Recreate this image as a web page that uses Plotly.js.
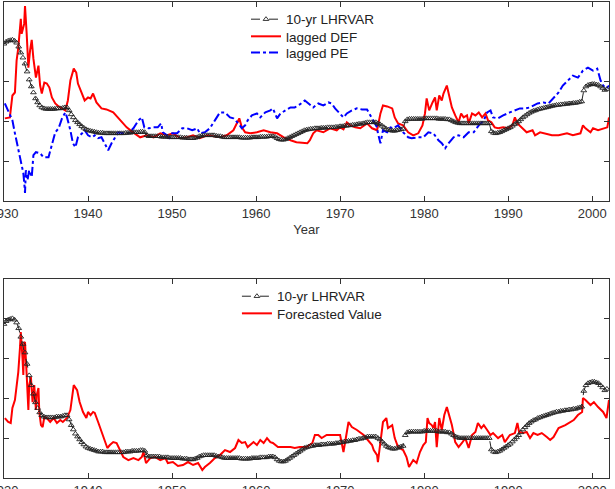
<!DOCTYPE html>
<html><head><meta charset="utf-8">
<script src="https://cdn.plot.ly/plotly-3.0.1.min.js"></script>
<style>html,body{margin:0;padding:0;background:#fff;} #chart{width:615px;height:489px;}</style>
</head><body><div id="chart"></div>
<script>
// 10-yr LHRVAR, quarterly from 1930.00
const lhrvarStartYear = 1930;
const lhrvarStepYears = 0.25;
const lhrvar = [
  1.475, 1.5, 1.513, 1.519,
  1.525, 1.513, 1.488, 1.438,
  1.363, 1.3, 1.225, 1.125,
  1.025, 0.938, 0.863, 0.788,
  0.738, 0.7, 0.675, 0.663,
  0.656, 0.656, 0.656, 0.656,
  0.656, 0.663, 0.663, 0.663,
  0.669, 0.675, 0.675, 0.638,
  0.588, 0.55, 0.513, 0.488,
  0.463, 0.438, 0.419, 0.4,
  0.388, 0.381, 0.375, 0.369,
  0.363, 0.356, 0.356, 0.356,
  0.35, 0.35, 0.35, 0.35,
  0.35, 0.35, 0.35, 0.35,
  0.35, 0.35, 0.356, 0.356,
  0.356, 0.363, 0.363, 0.363,
  0.363, 0.369, 0.369, 0.363,
  0.325, 0.313, 0.313, 0.313,
  0.313, 0.313, 0.313, 0.306,
  0.306, 0.306, 0.306, 0.3,
  0.3, 0.3, 0.3, 0.3,
  0.3, 0.294, 0.294, 0.294,
  0.288, 0.288, 0.288, 0.294,
  0.3, 0.313, 0.319, 0.325,
  0.325, 0.325, 0.325, 0.325,
  0.325, 0.319, 0.313, 0.313,
  0.306, 0.3, 0.3, 0.3,
  0.3, 0.3, 0.3, 0.3,
  0.3, 0.294, 0.294, 0.294,
  0.294, 0.294, 0.3, 0.3,
  0.3, 0.3, 0.306, 0.306,
  0.306, 0.306, 0.313, 0.313,
  0.313, 0.306, 0.288, 0.275,
  0.269, 0.269, 0.275, 0.288,
  0.3, 0.313, 0.325, 0.338,
  0.35, 0.363, 0.375, 0.388,
  0.394, 0.4, 0.406, 0.406,
  0.413, 0.413, 0.413, 0.419,
  0.419, 0.419, 0.425, 0.425,
  0.425, 0.425, 0.431, 0.431,
  0.438, 0.438, 0.444, 0.444,
  0.45, 0.45, 0.456, 0.456,
  0.463, 0.469, 0.469, 0.475,
  0.481, 0.488, 0.488, 0.488,
  0.488, 0.488, 0.475, 0.463,
  0.444, 0.425, 0.406, 0.394,
  0.388, 0.381, 0.381, 0.388,
  0.394, 0.4, 0.406, 0.5,
  0.525, 0.531, 0.531, 0.531,
  0.531, 0.531, 0.531, 0.531,
  0.538, 0.538, 0.538, 0.538,
  0.538, 0.538, 0.538, 0.531,
  0.531, 0.531, 0.531, 0.525,
  0.525, 0.513, 0.5, 0.488,
  0.481, 0.475, 0.475, 0.475,
  0.475, 0.475, 0.475, 0.475,
  0.475, 0.475, 0.475, 0.475,
  0.475, 0.475, 0.475, 0.475,
  0.375, 0.356, 0.35, 0.356,
  0.363, 0.375, 0.388, 0.4,
  0.413, 0.425, 0.444, 0.463,
  0.481, 0.5, 0.525, 0.55,
  0.569, 0.588, 0.606, 0.619,
  0.631, 0.638, 0.65, 0.656,
  0.663, 0.669, 0.675, 0.681,
  0.688, 0.694, 0.7, 0.706,
  0.706, 0.713, 0.713, 0.719,
  0.719, 0.725, 0.725, 0.731,
  0.731, 0.738, 0.744, 0.75,
  0.888, 0.938, 0.956, 0.963,
  0.969, 0.969, 0.963, 0.956,
  0.938, 0.919, 0.894, 0.906
];

// lagged DEF (top panel)
const defYears = [1930.1,1930.7,1931.0,1931.3,1931.5,1931.7,1932.0,1932.1,1932.4,1932.5,1932.7,1932.9,1933.1,1933.3,1933.5,1933.8,1934.1,1934.3,1934.5,1934.8,1935.1,1935.4,1935.7,1936.1,1936.5,1936.9,1937.3,1937.6,1937.9,1938.3,1938.6,1938.8,1939.3,1939.6,1940.0,1940.3,1940.6,1941.0,1941.6,1942.2,1943.0,1943.4,1944.0,1944.6,1945.2,1945.8,1946.2,1947.0,1947.8,1948.6,1949.4,1950.1,1951.0,1951.8,1952.5,1953.3,1954.2,1955.7,1956.5,1957.3,1957.7,1958.0,1958.3,1958.7,1959.3,1960.1,1960.9,1961.7,1962.5,1963.3,1964.1,1964.8,1966.1,1966.4,1966.8,1967.2,1968.0,1968.8,1969.6,1970.0,1970.4,1970.8,1971.2,1971.8,1972.4,1973.2,1973.8,1974.4,1974.8,1975.1,1975.6,1976.2,1976.5,1976.9,1977.5,1978.1,1978.7,1979.3,1979.8,1980.1,1980.3,1980.6,1981.0,1981.3,1981.5,1981.8,1982.1,1982.3,1982.7,1983.0,1983.3,1983.7,1984.1,1984.4,1984.7,1985.1,1985.3,1985.7,1986.1,1986.5,1986.9,1987.3,1987.6,1988.0,1988.4,1988.8,1989.4,1990.0,1990.5,1990.8,1991.1,1991.7,1992.2,1992.9,1993.2,1993.8,1994.4,1995.2,1996.0,1997.0,1997.7,1998.6,1998.9,1999.2,1999.8,2000.1,2000.7,2001.3,2001.8,2002.0];
const defValues = [0.538,0.55,0.825,0.863,1.263,1.425,1.788,1.6,1.725,1.95,1.6,1.175,1.388,1.525,1.288,1.05,1.2,0.95,0.85,0.988,0.975,0.925,0.8,0.725,0.688,0.663,0.638,0.763,1.013,1.163,1.113,0.975,0.825,0.763,0.8,0.788,0.85,0.738,0.663,0.65,0.613,0.563,0.488,0.425,0.375,0.325,0.3,0.325,0.3,0.35,0.325,0.35,0.288,0.3,0.325,0.288,0.325,0.3,0.325,0.388,0.475,0.538,0.425,0.363,0.35,0.363,0.388,0.363,0.35,0.3,0.263,0.238,0.225,0.263,0.35,0.388,0.363,0.413,0.388,0.425,0.4,0.488,0.45,0.425,0.413,0.475,0.413,0.388,0.6,0.7,0.688,0.663,0.55,0.475,0.45,0.363,0.325,0.35,0.45,0.6,0.788,0.638,0.738,0.8,0.638,0.825,0.763,0.85,0.95,0.8,0.675,0.575,0.488,0.6,0.55,0.575,0.475,0.6,0.575,0.613,0.55,0.6,0.513,0.488,0.425,0.413,0.425,0.413,0.45,0.55,0.475,0.413,0.363,0.388,0.325,0.363,0.35,0.325,0.325,0.35,0.325,0.35,0.45,0.413,0.363,0.413,0.388,0.413,0.425,0.55];

// lagged PE (top panel)
const peYears = [1930.1,1930.5,1931.0,1931.3,1931.7,1932.1,1932.3,1932.4,1932.5,1932.6,1932.8,1933.0,1933.3,1933.5,1933.8,1934.3,1934.7,1935.3,1935.7,1936.1,1936.5,1936.9,1937.3,1937.5,1937.9,1938.2,1938.5,1938.8,1939.3,1939.6,1940.0,1940.5,1940.8,1941.2,1941.6,1942.0,1942.4,1942.8,1943.2,1943.6,1944.2,1944.8,1945.4,1946.0,1946.4,1946.7,1947.2,1947.8,1948.3,1948.7,1948.9,1949.4,1949.5,1950.0,1950.6,1951.2,1951.8,1952.4,1953.0,1953.3,1953.9,1954.5,1955.1,1955.7,1956.3,1956.9,1957.3,1957.9,1958.3,1958.7,1959.0,1959.5,1960.1,1960.5,1961.1,1961.7,1962.0,1962.5,1962.9,1963.5,1964.1,1964.6,1965.2,1965.8,1966.2,1966.8,1967.4,1968.0,1968.6,1969.0,1969.4,1970.0,1970.4,1970.8,1971.4,1972.0,1972.6,1973.2,1973.6,1974.0,1974.4,1974.5,1974.8,1975.1,1975.6,1976.0,1976.3,1976.9,1977.5,1978.1,1978.5,1979.3,1979.9,1980.5,1981.1,1981.7,1982.1,1982.5,1982.9,1983.5,1984.1,1984.7,1985.3,1985.9,1986.5,1987.1,1987.5,1987.9,1988.2,1988.8,1989.4,1990.2,1990.8,1991.4,1992.0,1992.6,1993.5,1994.2,1994.8,1995.4,1996.0,1996.5,1997.1,1997.7,1998.3,1998.9,1999.5,2000.1,2000.6,2001.0,2001.3,2001.7,2002.0];
const peValues = [0.725,0.638,0.513,0.35,0.163,-0.025,-0.15,-0.263,-0.4,-0.113,-0.238,-0.113,-0.2,0.075,0.113,0.1,0.05,0.05,0.225,0.363,0.413,0.538,0.613,0.55,0.388,0.225,0.175,0.3,0.35,0.388,0.325,0.3,0.325,0.288,0.3,0.225,0.138,0.225,0.3,0.363,0.35,0.35,0.413,0.513,0.55,0.425,0.413,0.425,0.425,0.475,0.363,0.325,0.263,0.35,0.35,0.413,0.413,0.388,0.413,0.35,0.363,0.413,0.513,0.613,0.613,0.55,0.538,0.475,0.413,0.45,0.513,0.575,0.6,0.55,0.613,0.638,0.663,0.538,0.6,0.638,0.675,0.675,0.713,0.763,0.725,0.675,0.725,0.7,0.738,0.725,0.663,0.6,0.55,0.6,0.638,0.663,0.65,0.65,0.575,0.513,0.425,0.35,0.225,0.388,0.363,0.425,0.413,0.45,0.363,0.3,0.288,0.3,0.3,0.363,0.35,0.263,0.225,0.163,0.225,0.3,0.325,0.3,0.363,0.363,0.45,0.513,0.613,0.638,0.55,0.538,0.575,0.613,0.638,0.663,0.663,0.675,0.725,0.738,0.725,0.788,0.863,0.95,1.013,1.075,1.05,1.138,1.175,1.138,1.163,1.013,0.95,0.913,0.95];

// Forecasted Value (bottom panel)
const fcYears = [1930.1,1930.5,1930.8,1931.0,1931.3,1931.5,1931.7,1931.9,1932.0,1932.2,1932.3,1932.4,1932.5,1932.7,1932.9,1933.0,1933.2,1933.4,1933.6,1933.8,1933.9,1934.1,1934.2,1934.4,1934.6,1934.8,1935.1,1935.5,1935.9,1936.3,1936.7,1937.0,1937.5,1937.9,1938.1,1938.3,1938.7,1939.0,1939.4,1939.8,1940.0,1940.3,1940.6,1940.8,1941.2,1941.6,1942.0,1942.3,1942.6,1943.0,1943.4,1943.8,1944.2,1944.8,1945.4,1946.0,1946.4,1946.6,1946.9,1947.4,1948.0,1948.6,1949.2,1949.5,1950.1,1950.7,1951.3,1951.9,1952.5,1953.1,1953.6,1953.9,1954.5,1955.1,1955.7,1956.3,1956.9,1957.5,1957.9,1958.3,1958.7,1959.0,1959.7,1960.1,1960.5,1960.9,1961.3,1961.7,1962.0,1962.6,1963.3,1964.1,1964.6,1965.2,1966.0,1966.7,1967.0,1967.4,1967.8,1968.4,1969.2,1970.0,1970.4,1970.8,1971.0,1971.4,1972.0,1972.8,1973.3,1973.8,1974.0,1974.4,1974.5,1974.9,1975.1,1975.5,1975.7,1976.2,1976.5,1976.9,1977.5,1977.9,1978.2,1978.7,1979.1,1979.5,1979.9,1980.2,1980.4,1980.6,1980.9,1981.1,1981.3,1981.5,1981.8,1982.1,1982.4,1982.7,1983.0,1983.3,1983.7,1984.1,1984.5,1984.9,1985.3,1985.7,1986.1,1986.4,1986.8,1987.1,1987.5,1987.9,1988.2,1988.8,1989.3,1989.6,1990.2,1990.8,1991.1,1991.3,1991.8,1992.2,1992.6,1993.0,1993.5,1994.0,1994.6,1995.0,1995.4,1996.0,1996.8,1997.4,1997.8,1998.3,1998.8,1998.9,1999.2,1999.8,2000.2,2000.7,2001.3,2001.7,2002.0];
const fcValues = [0.651,0.616,0.607,0.739,0.809,0.94,1.054,1.265,1.405,1.177,1.028,1.309,1.318,1.028,0.721,0.94,1.011,0.791,0.94,0.721,0.853,0.914,0.704,0.589,0.572,0.66,0.651,0.616,0.651,0.607,0.633,0.616,0.651,0.721,0.853,0.94,0.896,0.791,0.704,0.651,0.704,0.677,0.704,0.695,0.616,0.528,0.44,0.388,0.414,0.44,0.432,0.37,0.309,0.282,0.3,0.282,0.309,0.353,0.256,0.3,0.309,0.282,0.3,0.256,0.265,0.23,0.239,0.265,0.239,0.256,0.195,0.221,0.256,0.3,0.326,0.37,0.353,0.388,0.458,0.432,0.44,0.396,0.44,0.414,0.458,0.432,0.475,0.44,0.432,0.396,0.396,0.396,0.388,0.396,0.396,0.432,0.502,0.502,0.475,0.502,0.502,0.502,0.353,0.528,0.616,0.572,0.546,0.502,0.458,0.414,0.37,0.326,0.265,0.528,0.616,0.651,0.563,0.589,0.475,0.396,0.37,0.309,0.221,0.282,0.256,0.353,0.414,0.44,0.651,0.607,0.589,0.563,0.616,0.396,0.651,0.546,0.677,0.747,0.677,0.589,0.44,0.396,0.432,0.475,0.388,0.502,0.528,0.607,0.563,0.589,0.546,0.502,0.519,0.475,0.502,0.44,0.502,0.519,0.607,0.528,0.519,0.528,0.475,0.519,0.502,0.519,0.484,0.458,0.484,0.563,0.589,0.616,0.633,0.677,0.704,0.826,0.809,0.765,0.791,0.747,0.704,0.651,0.809];

const xTickYears = [1930, 1940, 1950, 1960, 1970, 1980, 1990, 2000];
const nameLHRVAR = '10-yr LHRVAR';
const nameDEF = 'lagged DEF';
const namePE = 'lagged PE';
const nameFC = 'Forecasted Value';
const xTitle = 'Year';

const lhrvarYears = lhrvar.map((_, i) => lhrvarStartYear + i * lhrvarStepYears);

const lhrStyle = {
  mode: 'lines+markers',
  line: {color: '#222', width: 1, dash: 'dash'},
  marker: {symbol: 'triangle-up-open', size: 5, color: '#222', line: {width: 0.9, color: '#222'}}
};

const traces = [
  {x: defYears, y: defValues, name: nameDEF, type: 'scatter', mode: 'lines',
   line: {color: '#ff0000', width: 2}, xaxis: 'x', yaxis: 'y', legend: 'legend2'},
  {x: peYears, y: peValues, name: namePE, type: 'scatter', mode: 'lines',
   line: {color: '#0000ff', width: 2, dash: 'dashdot'}, xaxis: 'x', yaxis: 'y', legend: 'legend3'},
  Object.assign({x: lhrvarYears, y: lhrvar, name: nameLHRVAR, type: 'scatter',
   xaxis: 'x', yaxis: 'y', legend: 'legend'}, lhrStyle),
  {x: fcYears, y: fcValues, name: nameFC, type: 'scatter', mode: 'lines',
   line: {color: '#ff0000', width: 2}, xaxis: 'x2', yaxis: 'y2', legend: 'legend5'},
  Object.assign({x: lhrvarYears, y: lhrvar, name: nameLHRVAR, type: 'scatter',
   xaxis: 'x2', yaxis: 'y2', legend: 'legend4'}, lhrStyle)
];

const fontFam = 'Liberation Sans, Arial, sans-serif';
const axisCommon = {
  showline: true, linecolor: '#333', linewidth: 1, mirror: 'ticks',
  ticks: 'inside', ticklen: 5, tickcolor: '#333', tickwidth: 1,
  showgrid: false, zeroline: false, ticklabeloverflow: 'allow',
  tickfont: {family: fontFam, size: 13, color: '#333'}
};

function legendAt(x, y) {
  return {
    bgcolor: 'rgba(0,0,0,0)', borderwidth: 0,
    font: {family: fontFam, size: 13.5, color: '#222'},
    xanchor: 'left', yanchor: 'top', xref: 'paper', yref: 'paper', x: x, y: y
  };
}

const layout = {
  width: 615, height: 489,
  margin: {l: 4, r: 6, t: 2, b: 11},
  paper_bgcolor: '#ffffff', plot_bgcolor: '#ffffff',
  showlegend: true,
  xaxis: Object.assign({}, axisCommon, {domain: [0, 1], range: [1930, 2002], tickvals: xTickYears, anchor: 'y',
    title: {text: xTitle, font: {family: fontFam, size: 13, color: '#333'}, standoff: 5}}),
  yaxis: Object.assign({}, axisCommon, {domain: [0.582, 1], range: [-0.5, 2], tick0: 0, dtick: 0.5, showticklabels: false, anchor: 'x'}),
  xaxis2: Object.assign({}, axisCommon, {domain: [0, 1], range: [1930, 2002], tickvals: xTickYears, anchor: 'y2'}),
  yaxis2: Object.assign({}, axisCommon, {domain: [0, 0.418], range: [0.125, 1.87], tick0: 0.125, dtick: 0.35, showticklabels: false, anchor: 'x2'}),
  legend: legendAt(0.40, 0.996),
  legend2: legendAt(0.40, 0.960),
  legend3: legendAt(0.40, 0.926),
  legend4: legendAt(0.385, 0.414),
  legend5: legendAt(0.385, 0.378)
};

Plotly.newPlot('chart', traces, layout, {displayModeBar: false, staticPlot: true});
</script>
</body></html>
